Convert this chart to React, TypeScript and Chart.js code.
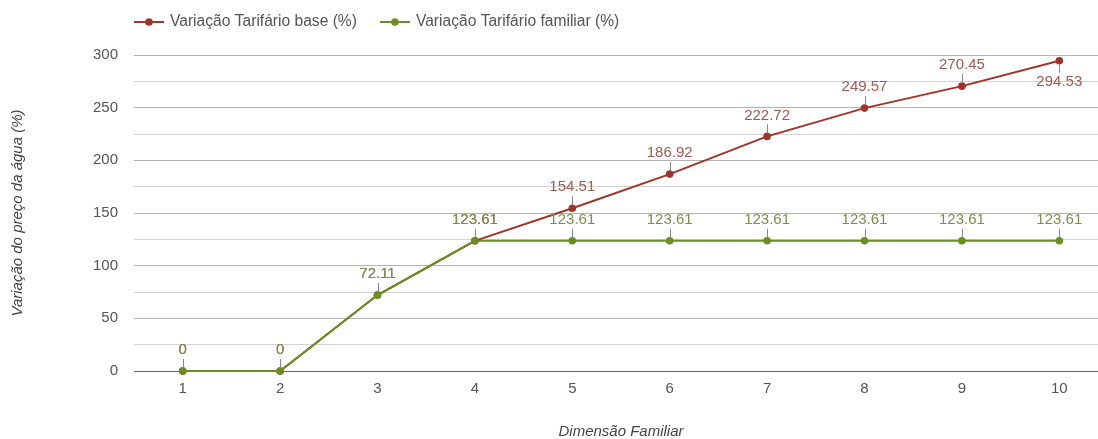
import React, { useEffect, useRef } from 'react';
import { Chart, registerables } from 'chart.js';

Chart.register(...registerables);

const categories = ['1', '2', '3', '4', '5', '6', '7', '8', '9', '10'];
const baseValues = [0, 0, 72.11, 123.61, 154.51, 186.92, 222.72, 249.57, 270.45, 294.53];
const familiarValues = [0, 0, 72.11, 123.61, 123.61, 123.61, 123.61, 123.61, 123.61, 123.61];
const seriesNames = ['Variação Tarifário base (%)', 'Variação Tarifário familiar (%)'];
const seriesColors = ['#a1342a', '#6b8e23'];
const labelColors = ['#a25a51', '#7b9050'];
const xTitle = 'Dimensão Familiar';
const yTitle = 'Variação do preço da água (%)';
const yMin = 0;
const yMax = 300;
const yStep = 25;
const yLabelEvery = 50;

const FONT = '"Liberation Sans", Arial, sans-serif';

const overlay = {
  id: 'overlay',
  afterDatasetsDraw(chart: any) {
    const ctx = chart.ctx;
    const area = chart.chartArea;
    chart.data.datasets.forEach((ds: any, i: number) => {
      const meta = chart.getDatasetMeta(i);
      meta.data.forEach((pt: any, j: number) => {
        const below = pt.y - 30 < area.top;
        const dir = below ? 1 : -1;
        const x = Math.round(pt.x) + 0.5;
        ctx.save();
        ctx.strokeStyle = '#888';
        ctx.lineWidth = 1;
        ctx.beginPath();
        ctx.moveTo(x, pt.y + dir * 3);
        ctx.lineTo(x, pt.y + dir * 12);
        ctx.stroke();
        ctx.fillStyle = labelColors[i];
        ctx.font = `15px ${FONT}`;
        ctx.textAlign = 'center';
        ctx.textBaseline = 'middle';
        ctx.fillText(String(ds.data[j]), pt.x, pt.y + dir * 21);
        ctx.restore();
      });
    });
  },
  afterDraw(chart: any) {
    const ctx = chart.ctx;
    const area = chart.chartArea;
    ctx.save();
    // legend
    ctx.font = `15.6px ${FONT}`;
    ctx.textBaseline = 'middle';
    ctx.textAlign = 'left';
    let x = 134;
    const y = 22;
    seriesNames.forEach((name, i) => {
      ctx.strokeStyle = seriesColors[i];
      ctx.lineWidth = 2;
      ctx.beginPath();
      ctx.moveTo(x, y);
      ctx.lineTo(x + 30, y);
      ctx.stroke();
      ctx.fillStyle = seriesColors[i];
      ctx.beginPath();
      ctx.arc(x + 15, y, 3.8, 0, Math.PI * 2);
      ctx.fill();
      ctx.fillStyle = '#555';
      ctx.fillText(name, x + 36, y);
      x = x + 36 + ctx.measureText(name).width + 23;
    });
    // axis titles
    ctx.fillStyle = '#444';
    ctx.font = `italic 15px ${FONT}`;
    ctx.textAlign = 'center';
    ctx.fillText(xTitle, (area.left + area.right) / 2, 432);
    ctx.translate(18, (area.top + area.bottom) / 2);
    ctx.rotate(-Math.PI / 2);
    ctx.fillText(yTitle, 0, 0);
    ctx.restore();
  },
};

export default function App() {
  const ref = useRef<HTMLCanvasElement>(null);
  useEffect(() => {
    document.body.style.margin = '0';
    const canvas = ref.current!;
    const chart = new Chart(canvas, {
      type: 'line',
      data: {
        labels: categories,
        datasets: [
          {
            label: seriesNames[0],
            data: baseValues,
            borderColor: seriesColors[0],
            backgroundColor: seriesColors[0],
            pointBackgroundColor: seriesColors[0],
            pointBorderWidth: 0,
            pointRadius: 3.8,
            borderWidth: 2,
            clip: false,
            order: 1,
          },
          {
            label: seriesNames[1],
            data: familiarValues,
            borderColor: seriesColors[1],
            backgroundColor: seriesColors[1],
            pointBackgroundColor: seriesColors[1],
            pointBorderWidth: 0,
            pointRadius: 3.8,
            borderWidth: 2,
            clip: false,
            order: 0,
          },
        ],
      },
      options: {
        responsive: false,
        animation: false,
        layout: { padding: { top: 55, right: 1, left: 0, bottom: 0 } },
        plugins: { legend: { display: false }, tooltip: { enabled: false } },
        scales: {
          x: {
            type: 'category',
            offset: true,
            grid: { display: false, drawTicks: false },
            border: { display: true, color: '#666', width: 1 },
            ticks: { color: '#555', font: { size: 15, family: FONT }, padding: 9 },
            afterFit: (s: any) => {
              s.height = 68;
            },
          },
          y: {
            min: yMin,
            max: yMax,
            ticks: {
              stepSize: yStep,
              color: '#555',
              font: { size: 15, family: FONT },
              padding: 16,
              callback: (v: any) => (Number(v) % yLabelEvery === 0 ? String(v) : ''),
            },
            grid: {
              drawTicks: false,
              color: (c: any) =>
                c.tick && c.tick.value === 0
                  ? '#666'
                  : c.tick && c.tick.value % yLabelEvery === 0
                  ? '#b3b3b3'
                  : '#d3d3d3',
            },
            border: { display: false },
            afterFit: (s: any) => {
              s.width = 134;
            },
          },
        },
      },
      plugins: [overlay],
    } as any);
    return () => chart.destroy();
  }, []);
  return (
    <div style={{ width: 1098, height: 439, overflow: 'hidden' }}>
      <canvas ref={ref} width={1112} height={439} />
    </div>
  );
}
